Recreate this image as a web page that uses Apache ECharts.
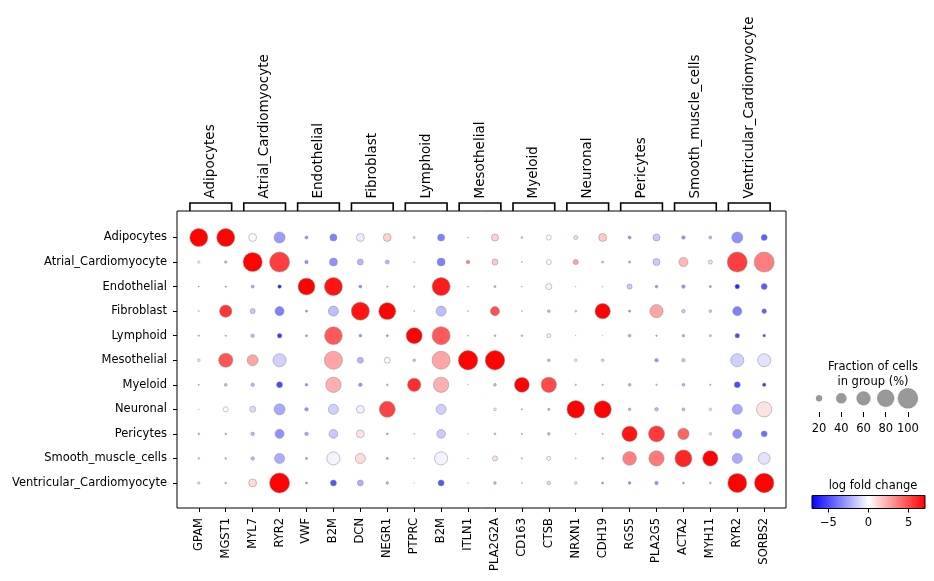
<!DOCTYPE html>
<html>
<head>
<meta charset="utf-8">
<script src="https://cdn.jsdelivr.net/npm/echarts@6/dist/echarts.min.js"></script>
<style>html,body{margin:0;padding:0;background:#fff}#c{width:934px;height:581px}</style>
</head>
<body>
<div id="c"></div>
<script>
// ---- data ----
const cellTypes = ['Adipocytes','Atrial_Cardiomyocyte','Endothelial','Fibroblast','Lymphoid','Mesothelial','Myeloid','Neuronal','Pericytes','Smooth_muscle_cells','Ventricular_Cardiomyocyte'];
const genes = ['GPAM','MGST1','MYL7','RYR2','VWF','B2M','DCN','NEGR1','PTPRC','B2M','ITLN1','PLA2G2A','CD163','CTSB','NRXN1','CDH19','RGS5','PLA2G5','ACTA2','MYH11','RYR2','SORBS2'];
const geneGroupNames = ['Adipocytes','Atrial_Cardiomyocyte','Endothelial','Fibroblast','Lymphoid','Mesothelial','Myeloid','Neuronal','Pericytes','Smooth_muscle_cells','Ventricular_Cardiomyocyte'];
const geneGroupStart = [0,2,4,6,8,10,12,14,16,18,20];
const geneGroupEnd   = [1,3,5,7,9,11,13,15,17,19,21];
// fraction of cells in group (%) – one row per cell type, one column per gene
const fractionPct = [
  [87,87,29,45,8,25,29,29,5,25,2,25, 4,16,12,29,8,25,10,8,45,20],
  [6,6,94,100,10,29,20,12,2,29,10,20, 2,16,16,5,5,25,35,12,100,100],
  [2,3,8,10,80,87,8,3,3,87,2,5, 2,20,1,1,16,7,10,5,14,20],
  [2,52,16,35,5,40,87,80,2,40,2,35, 2,7,4,70,5,57,10,7,35,14],
  [3,3,10,14,5,85,7,5,74,87,2,4, 4,12,1,1,7,3,6,5,14,7],
  [7,63,45,57,0,87,20,20,7,87,96,96, 0,7,7,7,0,10,10,0,57,57],
  [2,7,10,20,7,70,10,4,58,70,1,7, 67,70,3,3,7,3,7,3,20,10],
  [1,16,20,45,10,40,29,74,0,40,0,7, 3,5,84,82,7,10,8,7,40,70],
  [4,4,10,35,10,33,29,4,2,33,1,4, 3,7,2,3,70,74,47,7,35,20],
  [4,4,10,40,5,57,40,5,2,57,1,16, 3,12,2,4,60,70,80,70,40,50],
  [6,4,29,100,5,20,20,7,1,20,1,7, 2,10,7,5,7,10,4,4,93,96]
];
// log fold change
const logFoldChange = [
  [7,7,0.2,-2.8,-3,-3.5,-0.5,1.3,-1,-3.5,-1,1.3, -1.5,0,1,1.5,-3,-1.5,-3,-2,-3,-4.5],
  [0,-2,7,5.3,-3,-3,-2,-2,-1,-3.5,3.5,1.5, -1,0,2.5,-2,-2.5,-1.5,2,1,5.3,3.6],
  [-3,-3,-2.5,-6,7,6.5,-3,-2,-1,6.3,-1,-2, -1,0.3,-3,-3,-1.5,-3,-3,-3,-6,-4.5],
  [-1,5.6,-1.5,-3.5,-3,-1.8,6.5,7,-1,-1.8,-1,4.8, -1,-2,-1,7,-3,2.5,-1.5,-1.5,-3.5,-4.5],
  [-2,-2,-2,-5.5,-3,4.6,-3,-3,7,4.6,-1,-2, -2,-0.3,-1,-1,-2.5,-3,-2.5,-2,-5,-5],
  [-0.5,4.7,2.5,-1.3,0,2.5,-2,-0.2,-1.5,2.5,7,7, 0,-2,-0.5,-1,0,-3,-1.5,0,-1.3,-0.8],
  [-3,-2,-2,-5,-3,2.2,-3,-2,5.8,2.2,-1,-2, 7,5,-2,-2,-2.5,-2,-2.5,-2,-5,-5.5],
  [-1,0,-1,-2.4,-3,-1.3,-0.4,5.2,0,-1.3,0,-0.5, -1,-2.5,7,7,-2,-2,-2,-0.5,-2.4,0.8],
  [-2.5,-2,-2,-3,-2.5,-1.5,0.8,-3,-1,-1.5,-1,-2, -2,-2,-1,-2,6.5,5.5,4.3,-0.5,-3,-4],
  [-1.5,-2,-2,-2.3,-3,-0.3,1,-3,-1,-0.3,-1,0.8, -1,-0.3,-1,-2,3.5,3.7,6,7,-2.3,-0.8],
  [-0.8,-2,1,7,-3,-4.7,-2.2,-2,-1,-4.7,-1,-2, -1,-1,-0.5,-3,-3,-3,-3,-2,7,7]
];
const sizeLegendValues = [20,40,60,80,100];
const colorbarTicks = [-5,0,5];
const lfcLimit = 7.05;

// ---- helpers ----
const FONT = 'DejaVu Sans';
const MAXD = 20;
function dotSize(pct){ return pct <= 0 ? 0 : MAXD * Math.pow(pct/100, 0.75); }
function bwr(v){
  let t = Math.max(-1, Math.min(1, v/lfcLimit));
  if (t < 0){ const c = Math.round(255*(1+t)); return 'rgb('+c+','+c+',255)'; }
  const c = Math.round(255*(1-t)); return 'rgb(255,'+c+','+c+')';
}
const dotData = [];
cellTypes.forEach((ct, r) => genes.forEach((g, c) => {
  const f = fractionPct[r][c];
  if (f > 0) dotData.push([c, r, f, logFoldChange[r][c]]);
}));
const groupData = geneGroupNames.map((n,i) => [geneGroupStart[i], geneGroupEnd[i], n]);
const xIdx = genes.map((g,i)=>i);
const yIdx = cellTypes.map((g,i)=>i);
const X_MIN = -0.81, X_MAX = 21.81, Y_MIN = -1.08, Y_MAX = 11.02;
const minus = s => String(s).replace('-', '\u2212');

const chart = echarts.init(document.getElementById('c'), null, {renderer:'canvas'});
chart.setOption({
  animation: false,
  backgroundColor: '#fff',
  textStyle: {fontFamily: FONT},
  title: [
    {text: 'Fraction of cells\nin group (%)', left: 868, top: 355, textAlign: 'center',
     textStyle: {fontFamily: FONT, fontSize: 11.5, fontWeight: 'normal', color: '#000', lineHeight: 14.5}},
    {text: 'log fold change', left: 868, top: 475, textAlign: 'center',
     textStyle: {fontFamily: FONT, fontSize: 11.5, fontWeight: 'normal', color: '#000'}}
  ],
  grid: [
    {left: 177, top: 211, width: 609, height: 297, show: true, borderColor: '#000', borderWidth: 1, backgroundColor: 'transparent'},
    {left: 808, top: 388, width: 111, height: 24, show: false},
    {left: 812, top: 495.5, width: 113, height: 13, show: true, borderColor: '#000', borderWidth: 1,
     backgroundColor: {type:'linear', x:0, y:0, x2:1, y2:0, colorStops:[{offset:0,color:'#0000ff'},{offset:0.5,color:'#ffffff'},{offset:1,color:'#ff0000'}]}}
  ],
  xAxis: [
    {gridIndex: 0, type: 'value', position: 'bottom', min: X_MIN, max: X_MAX, axisLine: {show: false, onZero: false}, splitLine: {show: false},
     axisTick: {show: true, length: 4, customValues: xIdx, lineStyle: {color: '#000'}},
     axisLabel: {show: true, customValues: xIdx, rotate: 90, margin: 10, fontSize: 11.5, color: '#000', fontFamily: FONT,
                 hideOverlap: false, formatter: v => genes[Math.round(v)]}},
    {gridIndex: 1, type: 'category', position: 'bottom', data: sizeLegendValues.map(String), boundaryGap: true,
     axisLine: {show: false, onZero: false}, axisTick: {show: true, length: 5, alignWithLabel: true, interval: 0, lineStyle: {color: '#000'}},
     axisLabel: {margin: 11, interval: 0, hideOverlap: false, fontSize: 11.5, color: '#000', fontFamily: FONT}, splitLine: {show: false}},
    {gridIndex: 2, type: 'value', position: 'bottom', min: -lfcLimit, max: lfcLimit, axisLine: {show: false, onZero: false}, splitLine: {show: false},
     axisTick: {show: true, length: 4, customValues: colorbarTicks, lineStyle: {color: '#000'}},
     axisLabel: {show: true, customValues: colorbarTicks, margin: 9, fontSize: 11.5, color: '#000', fontFamily: FONT, formatter: v => minus(v)}}
  ],
  yAxis: [
    {gridIndex: 0, type: 'value', position: 'left', inverse: true, min: Y_MIN, max: Y_MAX, axisLine: {show: false, onZero: false}, splitLine: {show: false},
     axisTick: {show: true, length: 4, customValues: yIdx, lineStyle: {color: '#000'}},
     axisLabel: {show: true, customValues: yIdx, margin: 10, fontSize: 11.5, color: '#000', fontFamily: FONT,
                 formatter: v => cellTypes[Math.round(v)]}},
    {gridIndex: 1, type: 'value', min: 0, max: 1, show: false, axisLine: {onZero: false}},
    {gridIndex: 2, type: 'value', min: 0, max: 1, show: false, axisLine: {onZero: false}}
  ],
  series: [
    {type: 'scatter', xAxisIndex: 0, yAxisIndex: 0, data: dotData, clip: false,
     symbolSize: v => dotSize(v[2]),
     itemStyle: {color: p => bwr(p.value[3]), borderColor: '#8a8a8a', borderWidth: 0.5, opacity: 1},
     emphasis: {disabled: true}},
    {type: 'scatter', xAxisIndex: 1, yAxisIndex: 1, clip: false,
     data: sizeLegendValues.map((v,i) => [i, 0.57, v]),
     symbolSize: v => dotSize(v[2]),
     itemStyle: {color: '#808080', borderColor: '#808080', borderWidth: 0.5}},
    {type: 'custom', xAxisIndex: 0, yAxisIndex: 0, clip: false, data: groupData,
     renderItem: (params, api) => {
       const x1 = api.coord([api.value(0) - 0.33, Y_MIN])[0];
       const x2 = api.coord([api.value(1) + 0.22, Y_MIN])[0];
       const top = api.coord([api.value(0), Y_MIN])[1];
       const yb = top - 8;
       const name = groupData[params.dataIndex][2];
       return {type: 'group', children: [
         {type: 'polyline', shape: {points: [[x1, top], [x1, yb], [x2, yb], [x2, top]]},
          style: {stroke: '#000', lineWidth: 1.6, fill: null}},
         {type: 'text', x: (x1 + x2) / 2, y: yb - 4.5, rotation: Math.PI / 2,
          style: {text: name, x: 0, y: 0, align: 'left', verticalAlign: 'middle', fontFamily: FONT, fontSize: 13.5, fill: '#000'}}
       ]};
     }}
  ]
});
</script>
</body>
</html>
